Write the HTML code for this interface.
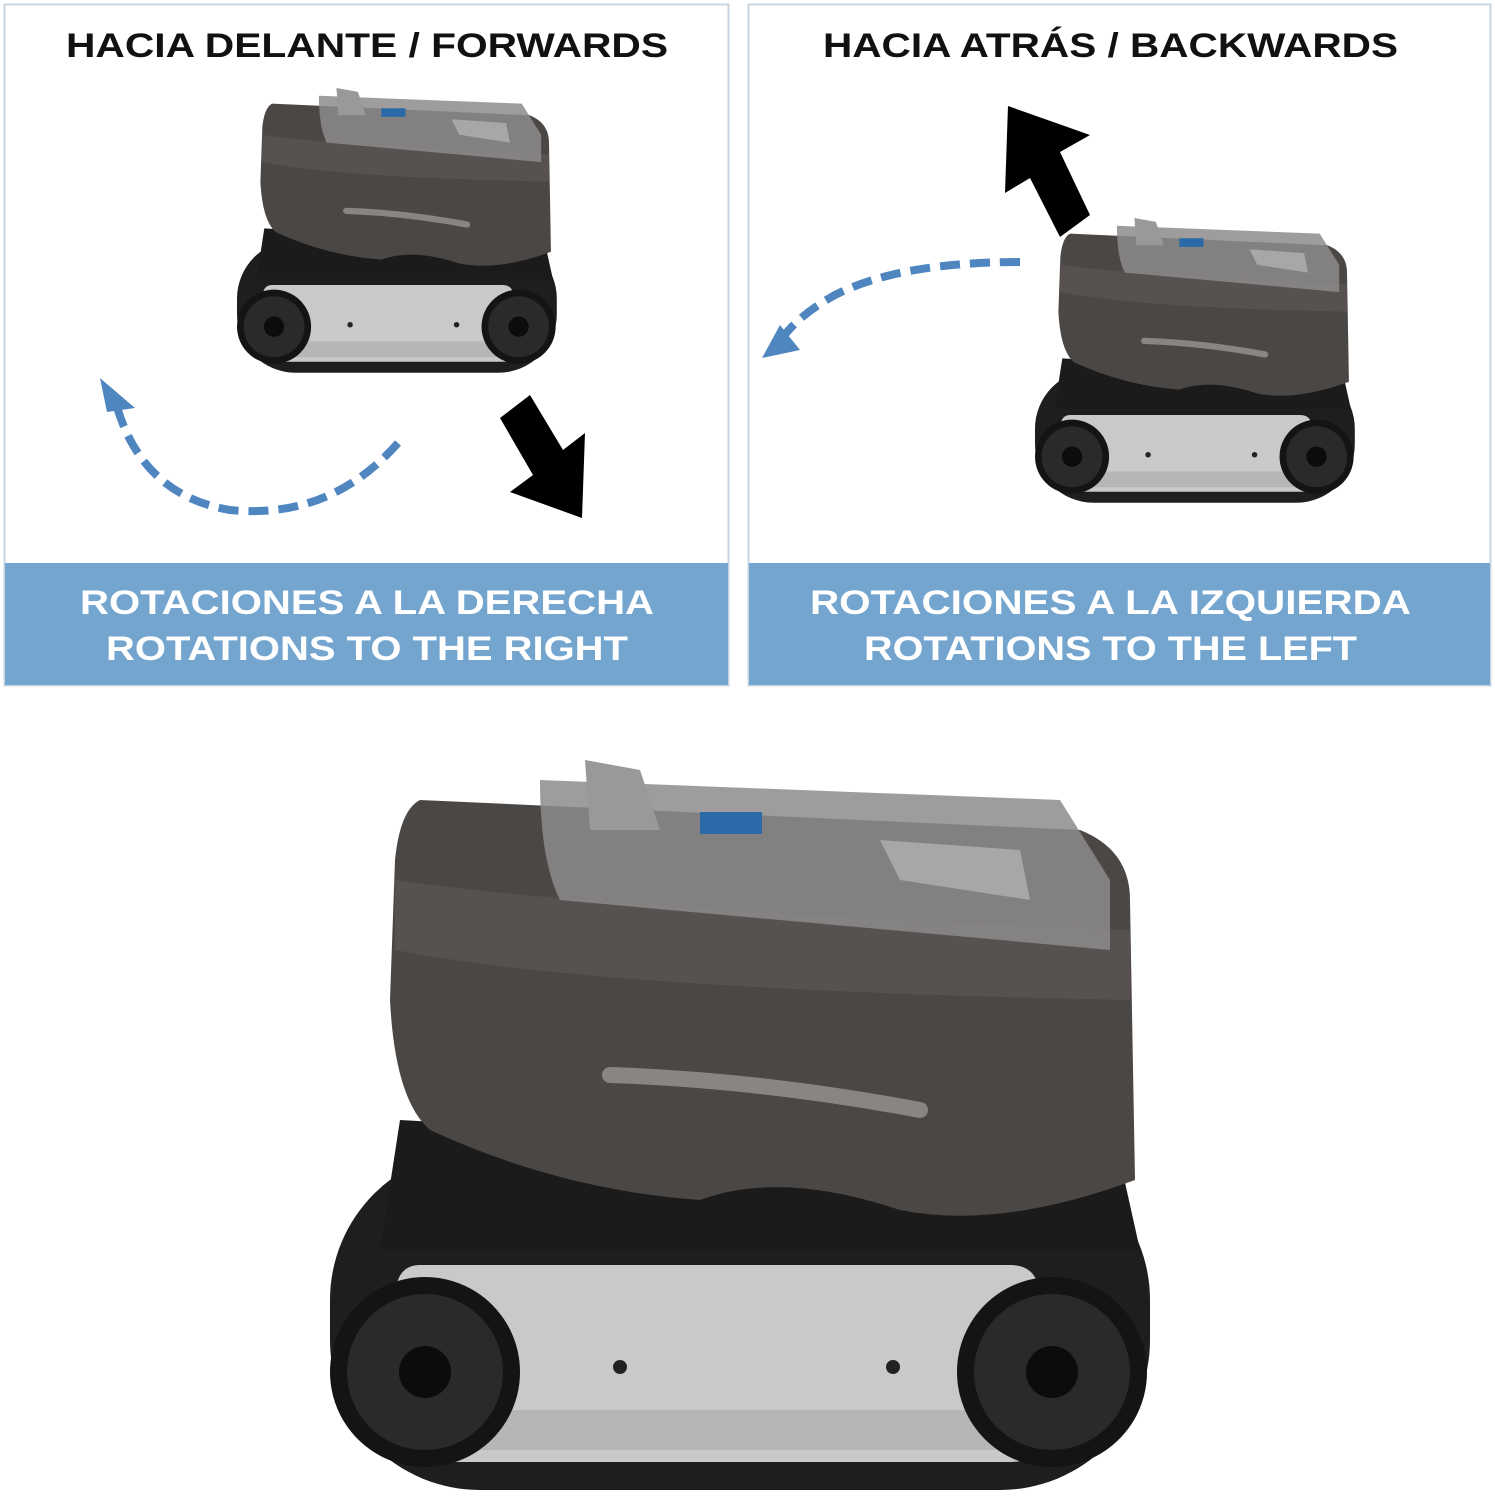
<!DOCTYPE html>
<html><head><meta charset="utf-8"><style>html,body{margin:0;padding:0;background:#fff}svg{display:block}</style></head><body>
<svg width="1495" height="1500" viewBox="0 0 1495 1500" xmlns="http://www.w3.org/2000/svg" font-family="Liberation Sans, sans-serif" font-weight="bold">
<defs>
<g id="robot">
  <rect x="330" y="1150" width="820" height="340" rx="150" fill="#1e1e1e"/>
  <path d="M420 1265 L1010 1265 Q1040 1265 1040 1300 L1040 1440 Q1040 1462 1010 1462 L420 1462 Q395 1462 395 1440 L395 1300 Q395 1265 420 1265Z" fill="#c9c9cb"/>
  <rect x="440" y="1410" width="560" height="40" fill="#b6b6b8"/>
  <circle cx="620" cy="1367" r="7" fill="#222"/>
  <circle cx="893" cy="1367" r="7" fill="#222"/>
  <circle cx="425" cy="1372" r="95" fill="#141414"/>
  <circle cx="425" cy="1372" r="78" fill="#2a2a2a"/>
  <circle cx="425" cy="1372" r="26" fill="#0c0c0c"/>
  <circle cx="1052" cy="1372" r="95" fill="#141414"/>
  <circle cx="1052" cy="1372" r="78" fill="#2a2a2a"/>
  <circle cx="1052" cy="1372" r="26" fill="#0c0c0c"/>
  <path d="M400 1120 L1120 1160 L1140 1250 L380 1250Z" fill="#1b1b1b"/>
  <path d="M420 800 L1080 830 Q1130 850 1130 900 L1135 1180 Q1000 1230 900 1210 Q780 1170 700 1200 Q560 1190 430 1130 Q395 1100 390 1000 L395 860 Q400 810 420 800Z" fill="#4b4745"/>
  <path d="M395 880 Q600 910 1130 930 L1130 1000 Q600 990 395 950Z" fill="#57524f"/>
  <path d="M610 1075 Q760 1080 920 1110" stroke="#8a8583" stroke-width="16" fill="none" stroke-linecap="round"/>
  <path d="M540 780 L1060 800 L1110 880 L1110 950 L560 900 Q540 860 540 780Z" fill="#8d8b8c" opacity="0.85"/>
  <path d="M585 760 L640 770 L660 830 L590 830Z" fill="#9a9898"/>
  <rect x="700" y="812" width="62" height="22" fill="#2a6aa8"/>
  <path d="M880 840 L1020 850 L1030 900 L900 880Z" fill="#a8a6a6"/>
</g>
</defs>

<rect x="4.5" y="4.5" width="724" height="681" fill="#fff" stroke="#c8d5e0" stroke-width="2"/>
<rect x="748.5" y="4.5" width="742" height="681" fill="#fff" stroke="#c8d5e0" stroke-width="2"/>
<rect x="5" y="563" width="723" height="122" fill="#73a5cf"/>
<rect x="749" y="563" width="741" height="122" fill="#73a5cf"/>

<g font-size="34" fill="#111">
<text x="66" y="57" textLength="602" lengthAdjust="spacingAndGlyphs">HACIA DELANTE / FORWARDS</text>
<text x="823" y="57" textLength="575" lengthAdjust="spacingAndGlyphs">HACIA ATRÁS / BACKWARDS</text>
</g>
<g font-size="34" fill="#fff">
<text x="80" y="614" textLength="574" lengthAdjust="spacingAndGlyphs">ROTACIONES A LA DERECHA</text>
<text x="106" y="660" textLength="522" lengthAdjust="spacingAndGlyphs">ROTATIONS TO THE RIGHT</text>
<text x="810" y="614" textLength="601" lengthAdjust="spacingAndGlyphs">ROTACIONES A LA IZQUIERDA</text>
<text x="864" y="660" textLength="493" lengthAdjust="spacingAndGlyphs">ROTATIONS TO THE LEFT</text>
</g>

<g transform="translate(237,88) scale(0.39) translate(-330,-760)"><use href="#robot"/></g>
<g transform="translate(1035,218) scale(0.39) translate(-330,-760)"><use href="#robot"/></g>

<path d="M500 418 L530 395 L563 450 L585 433 L582 518 L510 492 L533 475Z" fill="#000"/>
<path d="M1090 215 L1060 237 L1030 178 L1005 193 L1008 106 L1090 135 L1060 152Z" fill="#000"/>

<path d="M398 443 Q330 520 230 510 Q140 495 115 400" stroke="#4f86c0" stroke-width="8" fill="none" stroke-dasharray="20 10"/>
<path d="M100 378 L135 408 L107 412Z" fill="#4f86c0"/>
<path d="M1020 262 Q900 262 835 295 Q790 320 775 350" stroke="#4f86c0" stroke-width="8" fill="none" stroke-dasharray="20 10"/>
<path d="M762 358 L800 350 L780 325Z" fill="#4f86c0"/>

<use href="#robot"/>
</svg>
</body></html>
